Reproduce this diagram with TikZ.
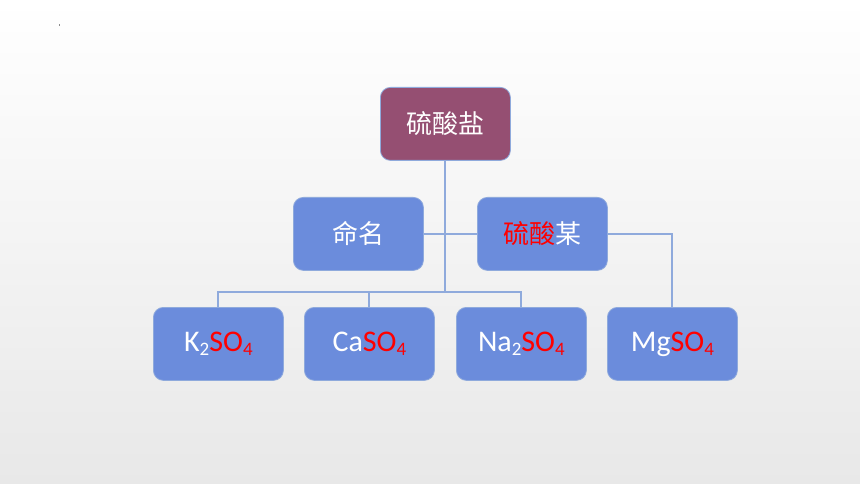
\documentclass[tikz,border=0pt]{standalone}
\usepackage{fontspec}
\setmainfont{Carlito}
\newfontfamily\cjk{Noto Sans CJK SC}
\definecolor{boxblue}{HTML}{6B8CDC}
\definecolor{toppurple}{HTML}{954F72}
\definecolor{linkblue}{HTML}{8FAADC}
\definecolor{chemred}{HTML}{FF0000}
\newcommand{\Lt}{\fontsize{30}{30}\selectfont}
\newcommand{\Cj}{\cjk\fontsize{26}{26}\selectfont}
\newcommand{\Sb}[1]{{\fontsize{19}{19}\selectfont\raisebox{-4pt}{#1}}}
\begin{document}
\begin{tikzpicture}[x=1pt,y=-1pt,
  box/.style={draw=linkblue, line width=0.8pt, fill=boxblue, rounded corners=10pt,
    minimum width=130pt, minimum height=73pt, text=white, inner sep=0pt, anchor=north west},
  topbox/.style={box, fill=toppurple},
  link/.style={draw=linkblue, line width=2pt}]
\shade[top color=white, bottom color=black!9] (0,0) rectangle (860,484);
\useasboundingbox (0,0) rectangle (860,484);
\fill[black!45] (59,24) rectangle (60,26);
\node[topbox] (top) at (380,87) {\Cj 硫酸盐};
\node[box] (ming) at (293,197) {\Cj 命名};
\node[box] (mou) at (477,197) {\Cj\textcolor{chemred}{硫酸}某};
\node[box] (k) at (153,307) {\Lt K\Sb{2}\textcolor{chemred}{SO\Sb{4}}};
\node[box] (ca) at (304,307) {\Lt Ca\textcolor{chemred}{SO\Sb{4}}};
\node[box] (na) at (456,307) {\Lt Na\Sb{2}\textcolor{chemred}{SO\Sb{4}}};
\node[box] (mg) at (607,307) {\Lt Mg\textcolor{chemred}{SO\Sb{4}}};
\coordinate (j) at (top.south |- 0,292);
\draw[link] (top.south) -- (j);
\draw[link] (ming.east) -- (mou.west);
\draw[link] (k.north) -- (k.north |- j) -- (na.north |- j) -- (na.north);
\draw[link] (ca.north) -- (ca.north |- j);
\draw[link] (mou.east) -| (mg.north);
\end{tikzpicture}
\end{document}
